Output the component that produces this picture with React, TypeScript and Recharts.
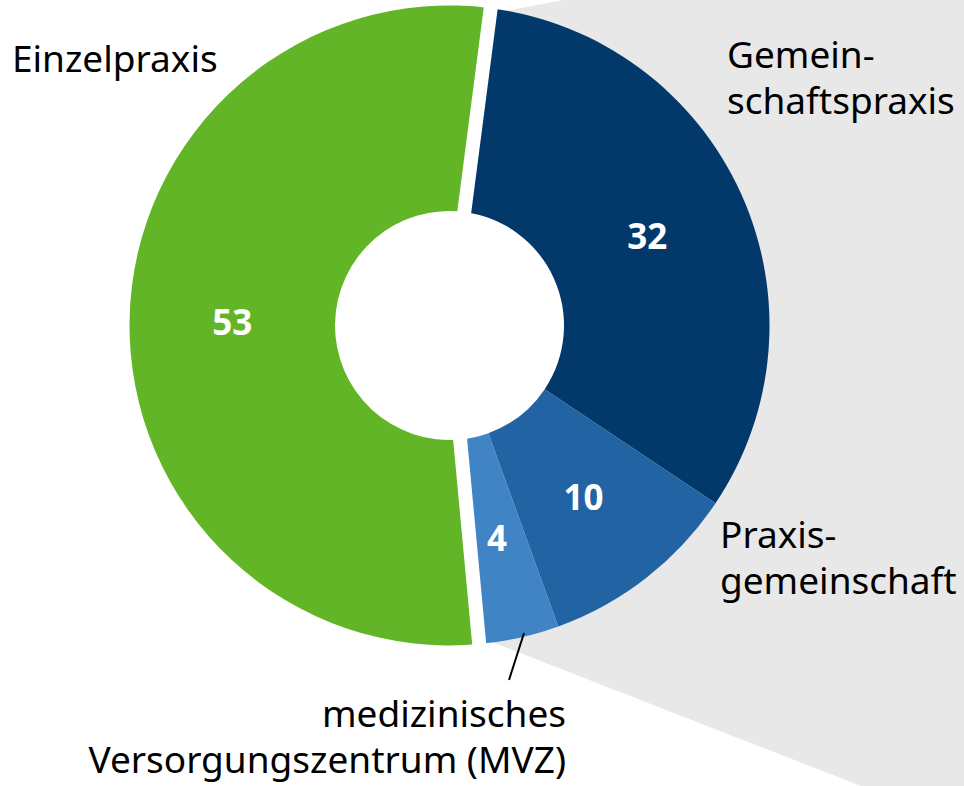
import { PieChart, Pie, Cell } from 'recharts';

// order follows the pie clockwise, starting at the top gap
const categories = ['Gemeinschaftspraxis', 'Praxisgemeinschaft', 'medizinisches Versorgungszentrum (MVZ)', 'Einzelpraxis'];
const values = [32, 10, 4, 53];
const colors = ['#03386B', '#2263A4', '#4084C6', '#62B526'];
const labelLines = [['Gemein-', 'schaftspraxis'], ['Praxis-', 'gemeinschaft'], ['medizinisches', 'Versorgungszentrum (MVZ)'], ['Einzelpraxis']];

const data = categories.map((name, i) => ({ name, value: values[i] }));

const W = 964;
const H = 786;
const CX = 449.5;
const CY = 325.5;
const INNER = 114.5;
const OUTER = 320;
const FONT = '"Noto Sans", "Open Sans", sans-serif';
const RAD = Math.PI / 180;

// where each category name sits (layout only)
const labelPos = [
    { x: 727, y: 68, anchor: 'start', lh: 46 },
    { x: 720, y: 548, anchor: 'start', lh: 46 },
    { x: 566, y: 727, anchor: 'end', lh: 46 },
    { x: 12, y: 72, anchor: 'start', lh: 46 },
];

const renderValue = (props: any) => {
    const { cx, cy, midAngle, innerRadius, outerRadius, value } = props;
    const r = (innerRadius + outerRadius) / 2;
    const x = cx + r * Math.cos(-midAngle * RAD);
    const y = cy + r * Math.sin(-midAngle * RAD);
    return (
        <text x={x} y={y} fill="#fff" textAnchor="middle" dominantBaseline="central"
            fontSize={35} fontWeight={700} fontFamily={FONT}>
            {value}
        </text>
    );
};

export default function App() {
    return (
        <div style={{ position: 'absolute', left: 0, top: 0, width: W, height: H, background: '#fff', overflow: 'hidden' }}>
            {/* grey callout wedge behind the blue part, hole kept white */}
            <svg width={W} height={H} style={{ position: 'absolute', left: 0, top: 0 }}>
                <polygon points="490,14 563,0 964,0 964,786 861,786 487,640" fill="#E8E8E8" />
                <circle cx={CX} cy={CY} r={INNER + 1} fill="#fff" />
            </svg>

            <div style={{ position: 'absolute', left: 0, top: 0 }}>
                <PieChart width={W} height={H} margin={{ top: 0, right: 0, bottom: 0, left: 0 }}>
                    <Pie
                        data={data}
                        dataKey="value"
                        nameKey="name"
                        cx={CX}
                        cy={CY}
                        innerRadius={INNER}
                        outerRadius={OUTER}
                        startAngle={82.6}
                        endAngle={82.6 - 360}
                        stroke="none"
                        label={renderValue}
                        labelLine={false}
                        isAnimationActive={false}
                    >
                        {data.map((d, i) => (
                            <Cell key={d.name} fill={colors[i]} stroke="none" />
                        ))}
                    </Pie>
                    {/* white gap around the green slice */}
                    <Pie
                        data={data}
                        dataKey="value"
                        nameKey="name"
                        cx={CX}
                        cy={CY}
                        innerRadius={100}
                        outerRadius={345}
                        startAngle={82.6}
                        endAngle={82.6 - 360}
                        labelLine={false}
                        isAnimationActive={false}
                    >
                        {data.map((d, i) => (
                            <Cell key={d.name} fill="none"
                                stroke={i === 3 ? '#fff' : 'none'}
                                strokeWidth={i === 3 ? 14 : 0} />
                        ))}
                    </Pie>
                </PieChart>
            </div>

            <svg width={W} height={H} style={{ position: 'absolute', left: 0, top: 0, pointerEvents: 'none' }}>
                <line x1={524} y1={633} x2={509} y2={680} stroke="#000" strokeWidth={2} />
                {labelLines.map((lines, i) => (
                    <text key={i} x={labelPos[i].x} y={labelPos[i].y} textAnchor={labelPos[i].anchor as any}
                        fontSize={37} fontFamily={FONT} fill="#000">
                        {lines.map((t, j) => (
                            <tspan key={j} x={labelPos[i].x} dy={j === 0 ? 0 : labelPos[i].lh}>{t}</tspan>
                        ))}
                    </text>
                ))}
            </svg>
        </div>
    );
}
